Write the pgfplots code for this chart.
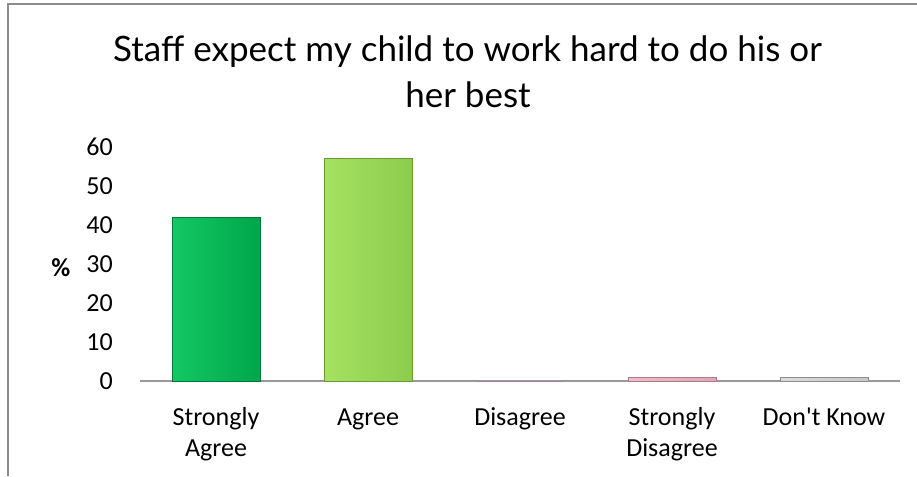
\documentclass[border=0pt]{standalone}
\usepackage{fontspec}
\setmainfont{Carlito}
\newfontfamily\aposfont{Carlito}[Ligatures=TeXOff]
\newfontfamily\titlefont{Lato}
\usepackage{pgfplots}
\pgfplotsset{compat=1.18}
\definecolor{sagreeL}{HTML}{14C864}
\definecolor{sagreeD}{HTML}{00A64A}
\definecolor{sagreeB}{HTML}{007A36}
\definecolor{agreeL}{HTML}{A6E262}
\definecolor{agreeD}{HTML}{8CCC4C}
\definecolor{agreeB}{HTML}{6A9A32}
\definecolor{pinkL}{HTML}{EAC0CC}
\definecolor{pinkD}{HTML}{DCA8B8}
\definecolor{pinkB}{HTML}{B07888}
\definecolor{grayL}{HTML}{DCDCDC}
\definecolor{grayD}{HTML}{C8C8C8}
\definecolor{grayB}{HTML}{8C8C8C}
\begin{document}
\begin{tikzpicture}[x=1pt,y=1pt]
\useasboundingbox (0,0) rectangle (917,476);
\draw[color=black!45, line width=1.2pt] (8,0) -- (8,472) -- (917,472);
\node[anchor=base, font=\titlefont\fontsize{35}{42}\selectfont, inner sep=0pt] at (467.5,414) {Staff expect my child to work hard to do his or};
\node[anchor=base, font=\titlefont\fontsize{35}{42}\selectfont, inner sep=0pt] at (468,368) {her best};
\begin{axis}[
  at={(140pt,95pt)}, anchor=south west,
  scale only axis, width=760pt, height=234pt,
  xmin=-0.5, xmax=4.5, ymin=0, ymax=60,
  ytick={0,10,...,60},
  xtick={0,1,2,3,4},
  xticklabels={{\strut Strongly\\Agree},{\strut Agree},{\strut Disagree},{\strut Strongly\\Disagree},{\strut Don{\aposfont'}t Know}},
  axis y line=left, axis x line=bottom,
  y axis line style={draw=none},
  x axis line style={-, draw=black!40, line width=1.2pt},
  major tick length=0pt,
  tick style={draw=none},
  /pgf/number format/assume math mode=true,
  ticklabel style={font=\fontsize{26}{31}\selectfont},
  yticklabel style={anchor=east, inner sep=0pt, xshift=-27pt},
  xticklabel style={align=center, anchor=north, inner sep=0pt, yshift=-23pt},
  ylabel={\textbf{\%}},
  ylabel style={rotate=-90, font=\fontsize{26}{31}\selectfont, at={(axis description cs:-0.104,0.483)}, anchor=center},
  ybar, bar width=88pt, bar shift=0pt,
  clip=false,
]
\addplot[draw=sagreeB, line width=0.8pt, left color=sagreeL, right color=sagreeD] coordinates {(0,42)};
\addplot[draw=agreeB, line width=0.8pt, left color=agreeL, right color=agreeD] coordinates {(1,57)};
\addplot[draw=pinkB, line width=0.8pt, left color=pinkL, right color=pinkD] coordinates {(2,0)};
\addplot[draw=pinkB, line width=0.8pt, left color=pinkL, right color=pinkD] coordinates {(3,1)};
\addplot[draw=grayB, line width=0.8pt, left color=grayL, right color=grayD] coordinates {(4,1)};
\end{axis}
\end{tikzpicture}
\end{document}
